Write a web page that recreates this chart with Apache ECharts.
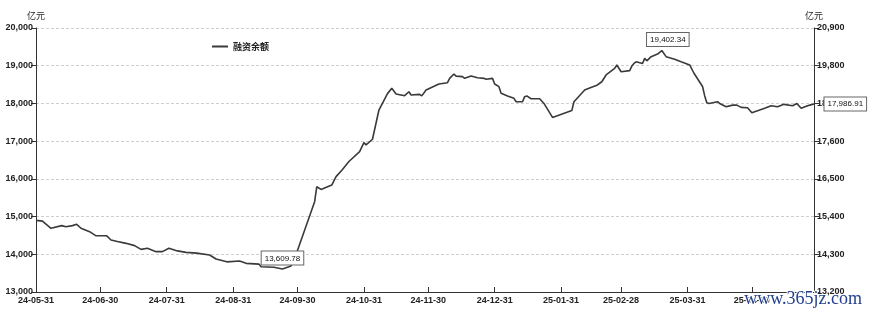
<!DOCTYPE html>
<html>
<head>
<meta charset="utf-8">
<script src="https://cdn.jsdelivr.net/npm/echarts@6/dist/echarts.min.js"></script>
<style>html,body{margin:0;padding:0;background:#fff}#c{width:870px;height:315px}</style>
</head>
<body>
<div id="c"></div>
<script>
// ---- data ----
const dates = [
 '2024-05-31','2024-06-03','2024-06-07','2024-06-12','2024-06-14','2024-06-17','2024-06-19','2024-06-21',
 '2024-06-25','2024-06-28','2024-07-03','2024-07-05','2024-07-08','2024-07-12','2024-07-16','2024-07-19',
 '2024-07-22','2024-07-26','2024-07-29','2024-08-01','2024-08-05','2024-08-09','2024-08-14','2024-08-20',
 '2024-08-23','2024-08-28','2024-09-03','2024-09-06','2024-09-12','2024-09-13','2024-09-19','2024-09-23',
 '2024-09-27','2024-09-30','2024-10-08','2024-10-09','2024-10-11','2024-10-16','2024-10-18','2024-10-21',
 '2024-10-24','2024-10-29','2024-10-31','2024-11-01','2024-11-04','2024-11-07','2024-11-11','2024-11-13',
 '2024-11-15','2024-11-19','2024-11-21','2024-11-22','2024-11-26','2024-11-27','2024-11-29','2024-12-03',
 '2024-12-05','2024-12-09','2024-12-10','2024-12-12','2024-12-13','2024-12-16','2024-12-17','2024-12-20',
 '2024-12-23','2024-12-26','2024-12-27','2024-12-30','2024-12-31','2025-01-02','2025-01-03','2025-01-06',
 '2025-01-09','2025-01-10','2025-01-13','2025-01-14','2025-01-15','2025-01-17','2025-01-21','2025-01-23',
 '2025-01-27','2025-02-05','2025-02-06','2025-02-11','2025-02-13','2025-02-17','2025-02-18','2025-02-19',
 '2025-02-21','2025-02-25','2025-02-26','2025-02-28','2025-03-04','2025-03-05','2025-03-06','2025-03-07',
 '2025-03-10','2025-03-11','2025-03-12','2025-03-14','2025-03-17','2025-03-19','2025-03-21','2025-03-25',
 '2025-03-28','2025-04-01','2025-04-03','2025-04-07','2025-04-08','2025-04-09','2025-04-10','2025-04-14',
 '2025-04-15','2025-04-18','2025-04-21','2025-04-23','2025-04-25','2025-04-28','2025-04-30','2025-05-06',
 '2025-05-09','2025-05-12','2025-05-15','2025-05-19','2025-05-21','2025-05-23','2025-05-26','2025-05-27',
 '2025-05-29'
];
const balance = [
 14900,14880,14690,14760,14730,14760,14795,14690,
 14600,14490,14490,14380,14340,14290,14230,14130,
 14160,14070,14070,14160,14090,14050,14030,13980,
 13875,13800,13820,13760,13740,13670,13655,13609.78,
 13690,14100,15395,15790,15720,15835,16060,16250,
 16460,16720,16960,16900,17050,17825,18260,18400,
 18250,18205,18310,18225,18240,18200,18355,18460,
 18515,18550,18665,18780,18725,18710,18665,18725,
 18680,18665,18640,18665,18515,18445,18270,18200,
 18135,18045,18045,18180,18200,18125,18125,18000,
 17630,17810,18045,18355,18400,18490,18535,18575,
 18755,18930,19020,18840,18870,18990,19060,19105,
 19060,19195,19130,19240,19310,19402.34,19240,19170,
 19105,19020,18800,18450,18200,18020,18000,18045,
 18000,17910,17955,17955,17895,17885,17755,17870,
 17940,17910,17975,17940,18000,17870,17940,17955,
 17986.91
];
const xTickLabels = ['24-05-31','24-06-30','24-07-31','24-08-31','24-09-30','24-10-31','24-11-30',
                     '24-12-31','25-01-31','25-02-28','25-03-31','25-04-30'];
const leftTicks = [13000, 20000, 1000];
const rightTicks = [13200, 20900, 1100];
const seriesName = '融资余额';
const unitName = '亿元';

// ---- helpers ----
function ts(s) { const p = s.split('-').map(Number); return Date.UTC(p[0], p[1] - 1, p[2]); }
function fromShort(l) { return ts('20' + l); }
function pad(n) { return (n < 10 ? '0' : '') + n; }
function fmtDate(v) { const d = new Date(v); return String(d.getUTCFullYear()).slice(2) + '-' + pad(d.getUTCMonth() + 1) + '-' + pad(d.getUTCDate()); }
function fmtNum(v, dec) { return Number(v).toLocaleString('en-US', {minimumFractionDigits: dec, maximumFractionDigits: dec}); }

const tickTs = xTickLabels.map(fromShort);
const seriesData = dates.map((d, i) => [ts(d), balance[i]]);
const last = seriesData[seriesData.length - 1];

const axisFont = {fontFamily: 'Liberation Sans, Arial, sans-serif', fontSize: 9, fontWeight: 'bold', color: '#222'};
const boxLabel = {
  show: true, fontFamily: 'Liberation Sans, Arial, sans-serif', fontSize: 8, color: '#111',
  backgroundColor: '#fff', borderColor: '#666', borderWidth: 1, padding: [3, 3, 2, 3],
  formatter: p => fmtNum(p.value, 2)
};

const chart = echarts.init(document.getElementById('c'), null, {renderer: 'canvas'});
chart.setOption({
  animation: false,
  backgroundColor: '#fff',
  grid: {left: 36, right: 56, top: 28, bottom: 23, containLabel: false},
  legend: {
    data: [seriesName], left: 207, top: 37, icon: 'rect', itemWidth: 16, itemHeight: 2, itemGap: 4,
    textStyle: {fontFamily: 'Noto Sans CJK SC', fontSize: 9, fontWeight: 'bold', color: '#222'}
  },
  xAxis: {
    type: 'value',
    min: ts(dates[0]), max: ts(dates[dates.length - 1]),
    axisLine: {lineStyle: {color: '#333', width: 1}},
    axisTick: {show: true, inside: true, length: 5, customValues: tickTs, lineStyle: {color: '#333'}},
    axisLabel: Object.assign({customValues: tickTs, formatter: v => fmtDate(v), margin: 4}, axisFont),
    splitLine: {show: false}
  },
  yAxis: [{
    type: 'value', min: leftTicks[0], max: leftTicks[1], interval: leftTicks[2],
    name: unitName, nameGap: 8,
    nameTextStyle: {fontFamily: 'Noto Sans CJK SC', fontSize: 9, color: '#222'},
    axisLine: {show: true, lineStyle: {color: '#333'}},
    axisTick: {show: true, length: 5, lineStyle: {color: '#333'}},
    axisLabel: Object.assign({margin: 3, formatter: v => fmtNum(v, 0)}, axisFont),
    splitLine: {show: true, lineStyle: {color: '#cfcfcf', type: [3, 2], width: 1}}
  }, {
    type: 'value', min: rightTicks[0], max: rightTicks[1], interval: rightTicks[2],
    name: unitName, nameGap: 8, position: 'right',
    nameTextStyle: {fontFamily: 'Noto Sans CJK SC', fontSize: 9, color: '#222'},
    axisLine: {show: true, lineStyle: {color: '#333'}},
    axisTick: {show: true, length: 5, lineStyle: {color: '#333'}},
    axisLabel: Object.assign({margin: 3, formatter: v => fmtNum(v, 0)}, axisFont),
    splitLine: {show: false}
  }],
  series: [{
    name: seriesName, type: 'line', yAxisIndex: 0, data: seriesData,
    showSymbol: false, symbol: 'none',
    lineStyle: {color: '#3a3a3a', width: 1.6},
    itemStyle: {color: '#3a3a3a'},
    markPoint: {
      symbol: 'circle', symbolSize: 1, itemStyle: {color: 'rgba(0,0,0,0)'}, z: 10,
      data: [
        {type: 'min', label: Object.assign({}, boxLabel, {position: 'top', distance: 4})},
        {type: 'max', label: Object.assign({}, boxLabel, {position: 'top', distance: 4, offset: [6, 0]})},
        {coord: last, value: last[1], label: Object.assign({}, boxLabel, {position: 'right', distance: 10})}
      ]
    }
  }],
  graphic: [{
    type: 'text', right: 7, bottom: 6, z: 100,
    style: {text: 'www.365jz.com', font: '18px "Liberation Serif", serif', fill: '#23408e', stroke: '#fff', lineWidth: 2}
  }]
});
</script>
</body>
</html>
